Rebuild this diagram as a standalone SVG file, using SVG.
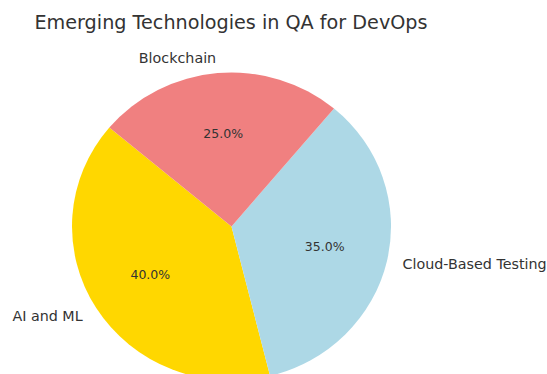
<svg xmlns="http://www.w3.org/2000/svg" width="547" height="374" viewBox="0 0 547 374">
  <style>
    text { font-family: "DejaVu Sans", "Liberation Sans", sans-serif; fill: #333333; }
    .title { font-size: 19.2px; }
    .label { font-size: 14.3px; }
    .pct { font-size: 12.5px; text-anchor: middle; }
    .wedge { stroke: none; }
  </style>
  <rect width="547" height="374" fill="#ffffff"/>
  <text class="title" x="231" y="28.5" text-anchor="middle">Emerging Technologies in QA for DevOps</text>

  <!-- pie centre (231.5, 226.5), radii 159.5 x 154, first wedge starts at 140 degrees -->
  <g id="slice-ai-ml">
    <path class="wedge" fill="#FFD700" d="M231.5,226.5 L109.32,127.51 A159.5,154 0 0 0 270.09,375.93 Z"/>
    <text class="pct" x="150.3" y="278.7">40.0%</text>
    <text class="label" x="82.7" y="321" text-anchor="end">AI and ML</text>
  </g>
  <g id="slice-cloud">
    <path class="wedge" fill="#ADD8E6" d="M231.5,226.5 L270.09,375.93 A159.5,154 0 0 0 334.03,108.53 Z"/>
    <text class="pct" x="324.7" y="250.5">35.0%</text>
    <text class="label" x="402.5" y="269.3" text-anchor="start">Cloud-Based Testing</text>
  </g>
  <g id="slice-blockchain">
    <path class="wedge" fill="#F08080" d="M231.5,226.5 L334.03,108.53 A159.5,154 0 0 0 109.32,127.51 Z"/>
    <text class="pct" x="223.2" y="137.6">25.0%</text>
    <text class="label" x="216.2" y="62.8" text-anchor="end">Blockchain</text>
  </g>
  <g id="connectors"/>
</svg>
